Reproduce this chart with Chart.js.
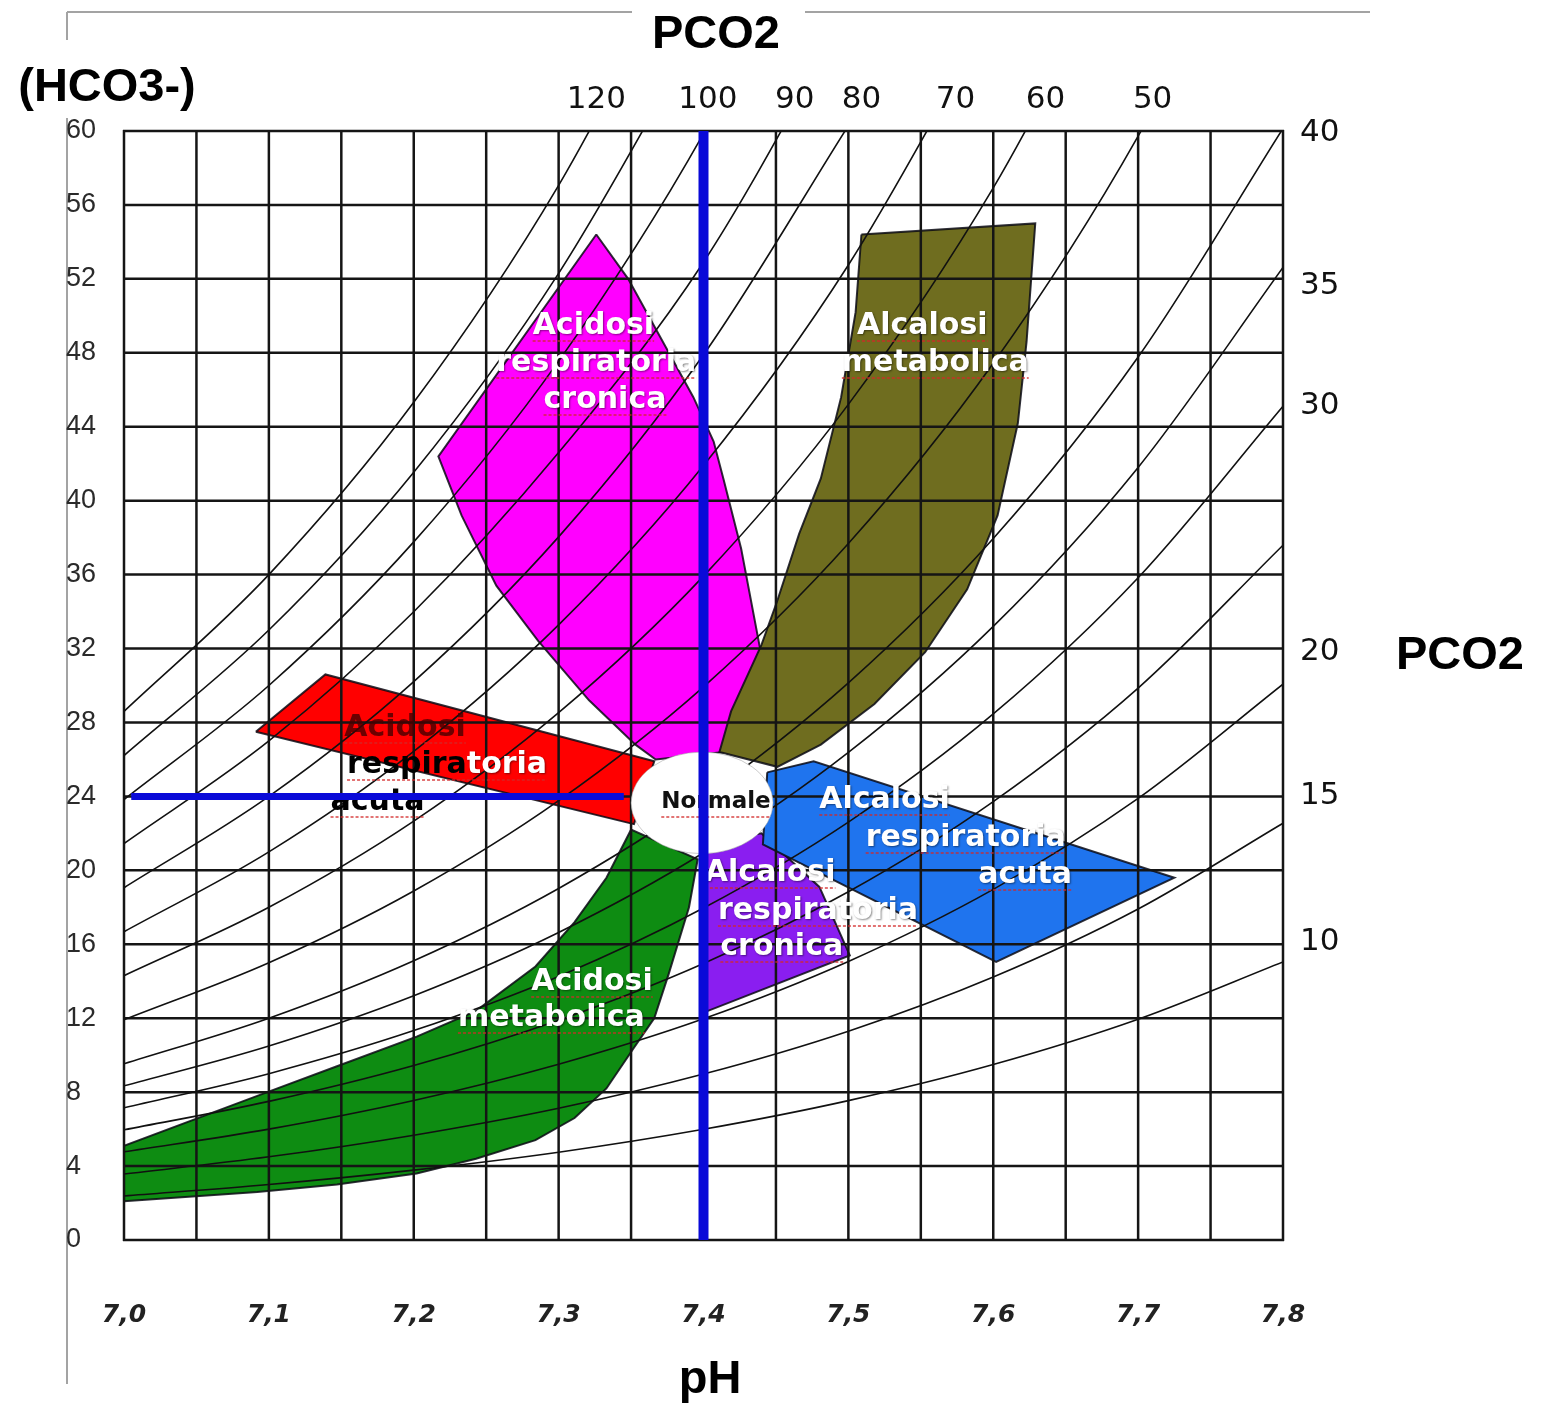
<!DOCTYPE html>
<html>
<head>
<meta charset="utf-8">
<script src="https://cdn.jsdelivr.net/npm/chart.js@4.4.0/dist/chart.umd.min.js"></script>
<style>
html,body{margin:0;padding:0;background:#fff;}
canvas{display:block;}
</style>
</head>
<body>
<canvas id="c" width="1544" height="1406"></canvas>
<script>
// ---------------- axis ticks ----------------
const phTickValues = [7.0, 7.1, 7.2, 7.3, 7.4, 7.5, 7.6, 7.7, 7.8];
const phTickLabels = ['7,0', '7,1', '7,2', '7,3', '7,4', '7,5', '7,6', '7,7', '7,8'];
const hco3TickValues = [0, 4, 8, 12, 16, 20, 24, 28, 32, 36, 40, 44, 48, 52, 56, 60];
const gridPH = [7.0, 7.05, 7.1, 7.15, 7.2, 7.25, 7.3, 7.35, 7.4, 7.45, 7.5, 7.55, 7.6, 7.65, 7.7, 7.75, 7.8];
const gridHCO3 = [0, 4, 8, 12, 16, 20, 24, 28, 32, 36, 40, 44, 48, 52, 56, 60];

// PCO2 isobar labels (top and right)
const topPCO2Labels = ['120', '100', '90', '80', '70', '60', '50'];
const topPCO2LabelPH = [7.326, 7.403, 7.463, 7.509, 7.574, 7.636, 7.710];
const rightPCO2Labels = ['40', '35', '30', '20', '15', '10'];
const rightPCO2LabelHCO3 = [59.9, 51.6, 45.1, 31.8, 24.0, 16.1];

// ---------------- PCO2 isobars (HCO3 read at pH 7.0, 7.1, ... 7.8) ----------------
const isoPH = [7.0, 7.1, 7.2, 7.3, 7.4, 7.5, 7.6, 7.7, 7.8];
const iso10  = [2.38, 3.00, 3.78, 4.75, 5.99, 7.54, 9.49, 11.94, 15.04];
const iso15  = [3.57, 4.50, 5.67, 7.13, 8.98, 11.30, 14.23, 17.91, 22.55];
const iso20  = [4.77, 6.00, 7.55, 9.51, 11.97, 15.07, 18.97, 23.89, 30.07];
const iso25  = [5.96, 7.50, 9.44, 11.89, 14.96, 18.84, 23.72, 29.86, 37.59];
const iso30  = [7.15, 9.00, 11.33, 14.26, 17.96, 22.61, 28.46, 35.83, 45.11];
const iso35  = [8.34, 10.50, 13.22, 16.64, 20.95, 26.38, 33.20, 41.80, 52.62];
const iso40  = [9.53, 12.00, 15.11, 19.02, 23.94, 30.14, 37.95, 47.77, 60.14];
const iso50  = [11.91, 15.00, 18.88, 23.77, 29.93, 37.68, 47.43, 59.72, 75.18];
const iso60  = [14.30, 18.00, 22.66, 28.53, 35.92, 45.21, 56.92, 71.66];
const iso70  = [16.68, 21.00, 26.44, 33.28, 41.90, 52.75, 66.41];
const iso80  = [19.06, 24.00, 30.21, 38.04, 47.89, 60.29];
const iso90  = [21.45, 27.00, 33.99, 42.60, 52.90, 66.50];
const iso100 = [23.83, 30.00, 37.77, 47.55, 59.86, 75.36];
const iso110 = [26.21, 33.00, 41.54, 52.30, 65.84];
const iso120 = [28.60, 36.00, 45.32, 57.06, 71.83];
const isobars = [iso10, iso15, iso20, iso25, iso30, iso35, iso40, iso50, iso60, iso70, iso80, iso90, iso100, iso110, iso120];

// ---------------- regions (polygon vertices: pH, HCO3) ----------------
const magentaPH   = [7.326, 7.348, 7.393, 7.407, 7.414, 7.426, 7.440, 7.414, 7.367, 7.353, 7.321, 7.286, 7.257, 7.233, 7.217, 7.326];
const magentaHCO3 = [54.4, 52.0, 45.6, 43.2, 41.1, 37.4, 31.6, 26.4, 26.0, 26.8, 29.2, 32.4, 35.4, 39.2, 42.4, 54.4];

const olivePH   = [7.509, 7.629, 7.623, 7.617, 7.603, 7.582, 7.553, 7.518, 7.481, 7.451, 7.411, 7.419, 7.440, 7.451, 7.466, 7.481, 7.495, 7.505, 7.509];
const oliveHCO3 = [54.4, 55.0, 48.6, 44.2, 39.2, 35.2, 31.8, 29.0, 26.8, 25.6, 26.4, 28.6, 32.2, 34.6, 38.2, 41.2, 45.6, 50.2, 54.4];

const redPH   = [7.091, 7.139, 7.366, 7.352, 7.091];
const redHCO3 = [27.5, 30.6, 25.9, 22.5, 27.5];

const greenPH   = [7.000, 7.092, 7.147, 7.202, 7.243, 7.284, 7.311, 7.333, 7.350, 7.396, 7.390, 7.376, 7.366, 7.352, 7.333, 7.311, 7.284, 7.243, 7.202, 7.147, 7.092, 7.000, 7.000];
const greenHCO3 = [5.1, 7.8, 9.4, 11.0, 12.4, 14.8, 17.2, 19.6, 22.2, 20.6, 18.0, 14.4, 12.0, 10.4, 8.2, 6.6, 5.4, 4.4, 3.6, 3.0, 2.6, 2.1, 5.1];

const purplePH   = [7.400, 7.440, 7.480, 7.501, 7.400, 7.400];
const purpleHCO3 = [21.5, 22.0, 19.1, 15.4, 12.3, 21.5];

const bluePH   = [7.444, 7.476, 7.725, 7.602, 7.441, 7.444];
const blueHCO3 = [25.3, 25.9, 19.6, 15.05, 21.4, 25.3];

// ---------------- normal zone & reference lines ----------------
const normalCenter = [7.399, 23.65];
const normalRadius = [0.049, 2.75];
const refVertPH = [7.4, 7.4];
const refVertHCO3 = [0, 60];
const refHorPH = [7.005, 7.345];
const refHorHCO3 = [24, 24];

// ---------------- region labels ----------------
const regionLabelText = [
  [['Acidosi', '#fff']], [['respiratoria', '#fff']], [['cronica', '#fff']],
  [['Alcalosi', '#fff']], [['metabolica', '#fff']],
  [['Alcalosi', '#fff']], [['respiratoria', '#fff']], [['acuta', '#fff']],
  [['Alcalosi', '#fff']], [['respiratoria', '#fff']], [['cronica', '#fff']],
  [['Acidosi', '#fff']], [['metabolica', '#fff']],
  [['Acidosi', 'rgba(70,0,0,0.8)']], [['respira', '#000'], ['toria', '#fff']], [['acuta', '#000']]
];
const regionLabelPH   = [7.324, 7.326, 7.332, 7.551, 7.560, 7.525, 7.581, 7.622, 7.446, 7.479, 7.454, 7.323, 7.295, 7.194, 7.223, 7.175];
const regionLabelHCO3 = [49.45, 47.45, 45.45, 49.45, 47.45, 23.8, 21.75, 19.75, 19.86, 17.8, 15.85, 13.96, 12.01, 27.7, 25.7, 23.7];
const normalLabel = 'Normale';
const normalLabelPos = [7.4086, 23.7];

// ---------------- build datasets ----------------
const pts = (xs, ys) => xs.map((x, i) => ({ x: x, y: ys[i] }));

function regionDs(xs, ys, color, order, extra) {
  return Object.assign({
    data: pts(xs, ys), fill: 'shape', backgroundColor: color,
    borderColor: 'rgba(10,10,20,0.85)', borderWidth: 2, pointRadius: 0,
    tension: 0, order: order, xAxisID: 'x', yAxisID: 'y'
  }, extra || {});
}

const datasets = [];
datasets.push({ data: pts(refVertPH, refVertHCO3), borderColor: '#0a0ad8', borderWidth: 10, pointRadius: 0, fill: false, order: 1, xAxisID: 'x', yAxisID: 'y' });
datasets.push({ data: pts(refHorPH, refHorHCO3), borderColor: '#0a0ad8', borderWidth: 7, pointRadius: 0, fill: false, order: 2, xAxisID: 'x', yAxisID: 'y', overlayBefore: true });
isobars.forEach(arr => {
  datasets.push({
    data: pts(isoPH.slice(0, arr.length), arr), borderColor: '#111', borderWidth: 1.6,
    pointRadius: 0, fill: false, cubicInterpolationMode: 'monotone', capBezierPoints: false,
    order: 40, xAxisID: 'x', yAxisID: 'y'
  });
});
datasets.push(regionDs(bluePH, blueHCO3, '#1f74ee', 51, { gridAfter: true }));
datasets.push(regionDs(purplePH, purpleHCO3, '#8a1ef0', 52));
datasets.push(regionDs(greenPH, greenHCO3, '#0e8c12', 53));
datasets.push(regionDs(redPH, redHCO3, '#ff0000', 54));
datasets.push(regionDs(olivePH, oliveHCO3, '#6f6d1f', 55));
datasets.push(regionDs(magentaPH, magentaHCO3, '#ff00ff', 56));

// ---------------- plugin for layering ----------------
function drawGrid(chart) {
  const { ctx, chartArea: a, scales: { x, y } } = chart;
  ctx.save();
  ctx.strokeStyle = '#151515';
  ctx.lineWidth = 2.5;
  gridPH.forEach(v => {
    const px = x.getPixelForValue(v);
    ctx.beginPath(); ctx.moveTo(px, a.top - 1); ctx.lineTo(px, a.bottom + 1); ctx.stroke();
  });
  gridHCO3.forEach(v => {
    const py = y.getPixelForValue(v);
    ctx.beginPath(); ctx.moveTo(a.left - 1, py); ctx.lineTo(a.right + 1, py); ctx.stroke();
  });
  ctx.restore();
}

function drawLabelLine(ctx, parts, cx, cy, font, underline, shadow) {
  ctx.font = font;
  const widths = parts.map(p => ctx.measureText(p[0]).width);
  const total = widths.reduce((s, w) => s + w, 0);
  let sx = cx - total / 2;
  parts.forEach((p, i) => {
    ctx.save();
    if (shadow && p[1] === '#fff') {
      ctx.shadowColor = 'rgba(0,0,0,0.45)';
      ctx.shadowBlur = 2; ctx.shadowOffsetX = 1; ctx.shadowOffsetY = 1;
    }
    ctx.fillStyle = p[1];
    ctx.textAlign = 'left';
    ctx.textBaseline = 'middle';
    ctx.fillText(p[0], sx, cy);
    ctx.restore();
    if (underline) {
      ctx.save();
      ctx.strokeStyle = 'rgba(210,40,40,0.65)';
      ctx.lineWidth = 2;
      ctx.setLineDash([3, 2]);
      ctx.beginPath(); ctx.moveTo(sx, cy + 15); ctx.lineTo(sx + widths[i], cy + 15); ctx.stroke();
      ctx.restore();
    }
    sx += widths[i];
  });
}

function drawOverlay(chart) {
  const { ctx, scales: { x, y } } = chart;
  regionLabelText.forEach((parts, i) => {
    drawLabelLine(ctx, parts, x.getPixelForValue(regionLabelPH[i]), y.getPixelForValue(regionLabelHCO3[i]),
      'bold 30px "DejaVu Sans"', true, true);
  });
  const cx = x.getPixelForValue(normalCenter[0]);
  const cy = y.getPixelForValue(normalCenter[1]);
  const rx = Math.abs(x.getPixelForValue(normalCenter[0] + normalRadius[0]) - cx);
  const ry = Math.abs(y.getPixelForValue(normalCenter[1] + normalRadius[1]) - cy);
  ctx.save();
  ctx.beginPath();
  ctx.ellipse(cx, cy, rx, ry, 0, 0, Math.PI * 2);
  ctx.fillStyle = '#ffffff';
  ctx.fill();
  ctx.strokeStyle = 'rgba(150,150,150,0.5)';
  ctx.lineWidth = 1;
  ctx.stroke();
  ctx.restore();
  drawLabelLine(ctx, [[normalLabel, '#111']], x.getPixelForValue(normalLabelPos[0]), y.getPixelForValue(normalLabelPos[1]),
    'bold 23px "DejaVu Sans"', true, false);
}

const layerPlugin = {
  id: 'layers',
  beforeDraw(chart) {
    const ctx = chart.ctx;
    ctx.save();
    ctx.fillStyle = '#fff';
    ctx.fillRect(0, 0, chart.width, chart.height);
    ctx.strokeStyle = '#a3a3a3';
    ctx.lineWidth = 2;
    ctx.beginPath();
    ctx.moveTo(67, 12); ctx.lineTo(632, 12);
    ctx.moveTo(805, 12); ctx.lineTo(1370, 12);
    ctx.moveTo(67, 12); ctx.lineTo(67, 40);
    ctx.moveTo(67, 118); ctx.lineTo(67, 1384);
    ctx.stroke();
    ctx.restore();
  },
  afterDatasetDraw(chart, args) {
    const ds = chart.data.datasets[args.index];
    if (ds.gridAfter) drawGrid(chart);
  },
  beforeDatasetDraw(chart, args) {
    const ds = chart.data.datasets[args.index];
    if (ds.overlayBefore) drawOverlay(chart);
  },
  afterDraw(chart) {
    const ctx = chart.ctx;
    ctx.save();
    ctx.fillStyle = '#000';
    ctx.font = 'bold 47px "Liberation Sans"';
    ctx.textAlign = 'center';
    ctx.textBaseline = 'alphabetic';
    ctx.fillText('PCO2', 716, 48);
    ctx.fillText('(HCO3-)', 107, 101);
    ctx.fillText('PCO2', 1460, 669);
    ctx.fillText('pH', 710, 1393);
    ctx.restore();
  }
};

new Chart(document.getElementById('c'), {
  type: 'line',
  data: { datasets: datasets },
  plugins: [layerPlugin],
  options: {
    responsive: false,
    animation: false,
    events: [],
    layout: { autoPadding: false, padding: { left: 66, right: 0, top: 0, bottom: 0 } },
    plugins: { legend: { display: false }, tooltip: { enabled: false }, title: { display: false } },
    elements: { point: { radius: 0 } },
    scales: {
      x: {
        type: 'linear', position: 'bottom', min: 7.0, max: 7.8,
        afterBuildTicks: s => { s.ticks = phTickValues.map(v => ({ value: v })); },
        afterFit: s => { s.height = 166; },
        grid: { display: false }, border: { display: false },
        ticks: {
          autoSkip: false, maxRotation: 0, minRotation: 0, padding: 52,
          color: '#222', font: { family: 'DejaVu Sans', size: 25, style: 'italic', weight: 'bold' },
          callback: (v, i) => phTickLabels[i]
        }
      },
      x2: {
        type: 'linear', position: 'top', min: 7.0, max: 7.8,
        afterBuildTicks: s => { s.ticks = topPCO2LabelPH.map(v => ({ value: v })); },
        afterFit: s => { s.height = 131; },
        grid: { display: false }, border: { display: false },
        ticks: {
          autoSkip: false, maxRotation: 0, minRotation: 0, padding: 4,
          color: '#111', font: { family: 'DejaVu Sans', size: 31 },
          callback: (v, i) => topPCO2Labels[i]
        }
      },
      y: {
        type: 'linear', position: 'left', min: 0, max: 60,
        afterBuildTicks: s => { s.ticks = hco3TickValues.map(v => ({ value: v })); },
        afterFit: s => { s.width = 58; },
        grid: { display: false }, border: { display: false },
        ticks: {
          autoSkip: false, crossAlign: 'far', padding: 4,
          color: '#2a2a2a', font: { family: 'Liberation Sans', size: 27 },
          callback: v => String(v)
        }
      },
      y2: {
        type: 'linear', position: 'right', min: 0, max: 60,
        afterBuildTicks: s => { s.ticks = rightPCO2LabelHCO3.map(v => ({ value: v })); },
        afterFit: s => { s.width = 261; },
        grid: { display: false }, border: { display: false },
        ticks: {
          autoSkip: false, padding: 9,
          color: '#111', font: { family: 'DejaVu Sans', size: 31 },
          callback: (v, i) => rightPCO2Labels[i]
        }
      }
    }
  }
});
</script>
</body>
</html>
